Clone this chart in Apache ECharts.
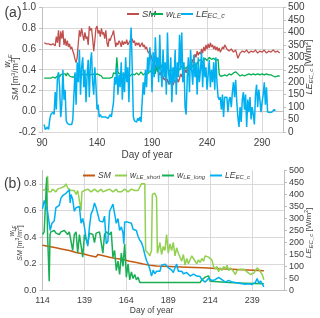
<!DOCTYPE html>
<html><head><meta charset="utf-8">
<script src="https://cdn.jsdelivr.net/npm/echarts@6/dist/echarts.min.js"></script>
<style>html,body{margin:0;padding:0;background:#fff}#c{width:320px;height:318px}</style>
</head><body><div id="c"></div>
<script>
// ---------- Panel (a) data: [day of year, value] ----------
const xTicksA = [90, 140, 190, 240, 290];
const smA = [[92,0.66],[94,0.65],[96,0.65],[98,0.64],[100,0.65],[101,0.66],[102,0.63],[103,0.72],[104,0.66],[105,0.78],[106,0.62],[107,0.77],[108,0.70],[109,0.78],[110,0.64],[111,0.70],[112,0.63],[113,0.68],[114,0.62],[115,0.65],[116,0.60],[117,0.62],[118,0.58],[119,0.55],[120,0.50],[121,0.47],[122,0.52],[123,0.66],[124,0.78],[125,0.72],[126,0.80],[127,0.74],[128,0.68],[129,0.76],[130,0.70],[131,0.72],[132,0.64],[133,0.82],[134,0.78],[135,0.80],[136,0.70],[137,0.58],[138,0.68],[139,0.80],[140,0.82],[141,0.75],[142,0.78],[143,0.72],[144,0.80],[145,0.74],[146,0.76],[147,0.70],[148,0.78],[149,0.66],[150,0.62],[151,0.70],[152,0.68],[153,0.72],[154,0.74],[155,0.78],[156,0.70],[157,0.62],[158,0.66],[159,0.64],[160,0.68],[161,0.66],[162,0.62],[163,0.68],[164,0.64],[165,0.67],[166,0.65],[167,0.69],[168,0.64],[169,0.66],[170,0.68],[171,0.65],[172,0.70],[173,0.66],[174,0.68],[175,0.63],[176,0.66],[177,0.64],[178,0.66],[179,0.62],[180,0.64],[181,0.66],[182,0.62],[183,0.64],[184,0.60],[185,0.62],[186,0.58],[187,0.56],[188,0.58],[189,0.54],[190,0.50],[191,0.48],[192,0.46],[193,0.44],[194,0.40],[195,0.42],[196,0.38],[197,0.35],[198,0.38],[199,0.32],[200,0.34],[201,0.30],[202,0.32],[203,0.28],[204,0.31],[205,0.26],[206,0.30],[207,0.27],[208,0.29],[209,0.25],[210,0.28],[211,0.30],[212,0.27],[213,0.31],[214,0.28],[215,0.32],[216,0.36],[217,0.33],[218,0.38],[219,0.35],[220,0.40],[221,0.37],[222,0.42],[223,0.38],[224,0.43],[225,0.40],[226,0.45],[227,0.50],[228,0.48],[229,0.55],[230,0.52],[231,0.58],[232,0.54],[233,0.57],[234,0.55],[235,0.60],[236,0.56],[237,0.62],[238,0.58],[239,0.64],[240,0.60],[241,0.65],[242,0.61],[243,0.66],[244,0.62],[245,0.64],[246,0.60],[247,0.63],[248,0.59],[249,0.62],[250,0.58],[251,0.61],[252,0.57],[253,0.59],[254,0.62],[255,0.60],[256,0.64],[257,0.62],[258,0.60],[259,0.61],[260,0.58],[262,0.60],[264,0.57],[266,0.59],[268,0.51],[270,0.56],[272,0.58],[274,0.57],[276,0.59],[278,0.56],[280,0.58],[282,0.57],[284,0.59],[286,0.56],[288,0.58],[290,0.57],[292,0.59],[294,0.56],[296,0.58],[298,0.57],[300,0.59],[302,0.57],[304,0.58],[306,0.56]];
const wA = [[92,0.32],[94,0.32],[96,0.32],[98,0.32],[100,0.33],[102,0.32],[104,0.34],[105,0.36],[106,0.33],[107,0.35],[108,0.34],[109,0.36],[110,0.35],[111,0.36],[112,0.34],[113,0.37],[114,0.38],[115,0.34],[116,0.35],[117,0.33],[118,0.34],[119,0.33],[120,0.35],[121,0.34],[122,0.35],[124,0.36],[126,0.35],[128,0.36],[130,0.35],[132,0.36],[134,0.35],[136,0.36],[138,0.35],[140,0.36],[142,0.35],[144,0.34],[145,0.32],[146,0.32],[148,0.32],[150,0.32],[152,0.32],[154,0.33],[155,0.37],[156,0.38],[157,0.36],[158,0.52],[159,0.38],[160,0.36],[161,0.35],[162,0.37],[163,0.35],[164,0.36],[166,0.35],[168,0.36],[170,0.34],[172,0.36],[174,0.35],[176,0.37],[178,0.35],[180,0.38],[182,0.35],[184,0.37],[186,0.36],[188,0.38],[190,0.40],[192,0.42],[193,0.36],[194,0.44],[195,0.38],[196,0.48],[197,0.40],[198,0.45],[199,0.42],[200,0.44],[202,0.40],[204,0.42],[206,0.38],[208,0.40],[210,0.38],[212,0.41],[214,0.39],[216,0.42],[218,0.44],[220,0.41],[222,0.43],[224,0.40],[226,0.42],[228,0.46],[230,0.44],[232,0.48],[234,0.50],[236,0.47],[238,0.51],[240,0.49],[242,0.52],[244,0.50],[246,0.51],[248,0.49],[250,0.50],[251,0.36],[252,0.34],[254,0.34],[256,0.35],[258,0.34],[260,0.36],[262,0.35],[264,0.37],[266,0.38],[268,0.36],[270,0.34],[272,0.35],[274,0.34],[276,0.35],[278,0.36],[280,0.35],[282,0.36],[284,0.35],[286,0.36],[288,0.35],[290,0.36],[292,0.35],[294,0.36],[296,0.35],[298,0.35],[300,0.34],[302,0.33],[304,0.34],[306,0.34]];
const leA = [[92,30],[93,10],[94,5],[95,20],[96,10],[97,50],[98,70],[99,65],[100,80],[101,70],[102,160],[103,90],[104,215],[105,240],[106,180],[107,60],[108,110],[109,250],[110,130],[111,170],[112,45],[113,35],[114,40],[115,30],[116,35],[117,30],[118,50],[119,150],[120,240],[121,110],[122,280],[123,200],[124,330],[125,150],[126,260],[127,300],[128,180],[129,250],[130,120],[131,230],[132,290],[133,140],[134,280],[135,320],[136,200],[137,150],[138,260],[139,190],[140,90],[141,110],[142,60],[143,70],[144,60],[145,65],[146,60],[147,55],[148,60],[149,65],[150,55],[151,60],[152,70],[153,60],[154,65],[155,120],[156,220],[157,190],[158,260],[159,150],[160,230],[161,180],[162,280],[163,130],[164,240],[165,160],[166,300],[167,200],[168,260],[169,120],[170,330],[171,420],[172,260],[173,60],[174,45],[175,50],[176,40],[177,55],[178,45],[179,60],[180,40],[181,120],[182,200],[183,150],[184,250],[185,180],[186,300],[187,240],[188,340],[189,290],[190,160],[191,320],[192,220],[193,380],[194,260],[195,300],[196,200],[197,390],[198,250],[199,180],[200,330],[201,220],[202,280],[203,150],[204,400],[205,240],[206,190],[207,300],[208,120],[209,260],[210,200],[211,330],[212,150],[213,280],[214,220],[215,390],[216,250],[217,400],[218,200],[219,280],[220,100],[221,70],[222,220],[223,300],[224,160],[225,330],[226,250],[227,190],[228,310],[229,220],[230,280],[231,150],[232,300],[233,200],[234,250],[235,320],[236,180],[237,300],[238,220],[239,260],[240,170],[241,230],[242,290],[243,180],[244,250],[245,200],[246,280],[247,170],[248,300],[249,200],[250,140],[251,130],[252,140],[253,90],[254,150],[255,60],[256,140],[257,135],[258,140],[259,80],[260,130],[261,140],[262,100],[263,160],[264,200],[265,140],[266,210],[267,120],[268,60],[269,20],[270,100],[271,40],[272,130],[273,160],[274,90],[275,150],[276,20],[277,130],[278,80],[279,140],[280,50],[281,100],[282,70],[283,30],[284,150],[285,190],[286,100],[287,170],[288,130],[289,80],[290,120],[291,150],[292,200],[293,110],[294,180],[295,80],[296,75],[297,78],[298,75],[299,80],[300,78],[301,90],[302,85]];

// ---------- Panel (b) data: [day of year, value] ----------
const xTicksB = [114, 139, 164, 189, 214, 239];
const smB = [[114,0.34],[118,0.33],[122,0.32],[126,0.31],[130,0.30],[134,0.285],[138,0.275],[142,0.262],[146,0.252],[147,0.27],[149,0.265],[154,0.25],[158,0.24],[162,0.232],[166,0.22],[170,0.21],[174,0.198],[178,0.19],[182,0.183],[190,0.18],[200,0.175],[210,0.17],[220,0.163],[230,0.158],[240,0.152],[246,0.148]];
const wShortB = [[114,0.75],[115,0.74],[116,0.76],[117,0.86],[117.5,0.74],[118,0.75],[119,0.74],[120,0.76],[121,0.75],[122,0.74],[123,0.76],[124,0.75],[125,0.77],[126,0.76],[127,0.78],[128,0.80],[129,0.77],[130,0.76],[131,0.75],[132,0.74],[133,0.75],[134,0.72],[135,0.75],[136,0.74],[137,0.60],[137.5,0.74],[139,0.75],[140,0.74],[141,0.76],[142,0.75],[143,0.74],[144,0.75],[145,0.76],[146,0.75],[147,0.74],[148,0.75],[149,0.76],[150,0.74],[151,0.75],[152,0.75],[153,0.74],[154,0.76],[155,0.75],[156,0.74],[157,0.75],[158,0.76],[159,0.74],[160,0.75],[161,0.74],[162,0.75],[163,0.76],[164,0.75],[165,0.74],[166,0.75],[167,0.76],[168,0.77],[169,0.75],[170,0.76],[171,0.75],[172,0.74],[173,0.80],[174,0.81],[175,0.80],[175.5,0.30],[177,0.28],[178,0.26],[179,0.30],[179.5,0.72],[181,0.73],[182,0.70],[182.5,0.28],[183,0.30],[184,0.36],[185,0.27],[186,0.33],[187,0.30],[188,0.42],[189,0.28],[190,0.35],[191,0.30],[192,0.36],[193,0.26],[194,0.32],[195,0.28],[196,0.25],[197,0.22],[198,0.27],[199,0.19],[200,0.24],[201,0.20],[202,0.23],[203,0.26],[204,0.24],[205,0.22],[206,0.20],[207,0.23],[208,0.21],[209,0.24],[210,0.22],[211,0.26],[212,0.27],[213,0.25],[214,0.26],[215,0.23],[216,0.18],[217,0.16],[218,0.18],[219,0.14],[220,0.17],[221,0.15],[222,0.18],[223,0.16],[224,0.19],[225,0.15],[226,0.17],[227,0.16],[228,0.14],[229,0.12],[230,0.15],[231,0.14],[232,0.16],[233,0.15],[234,0.16],[235,0.15],[236,0.14],[237,0.13],[238,0.12],[239,0.11],[240,0.13],[241,0.15],[242,0.17],[243,0.18],[244,0.14],[245,0.12],[246,0.08]];
const wLongB = [[114,0.42],[115,0.44],[116,0.43],[116.5,0.85],[117,0.43],[118,0.07],[118.5,0.42],[119,0.44],[120,0.43],[121,0.45],[122,0.43],[123,0.44],[124,0.42],[125,0.44],[126,0.43],[127,0.45],[128,0.44],[129,0.42],[130,0.44],[131,0.43],[132,0.30],[133,0.42],[134,0.44],[135,0.28],[136,0.42],[137,0.43],[138,0.25],[139,0.42],[140,0.43],[141,0.35],[142,0.43],[143,0.44],[144,0.42],[145,0.36],[146,0.43],[147,0.42],[148,0.44],[149,0.43],[150,0.28],[151,0.42],[152,0.44],[153,0.43],[154,0.42],[155,0.44],[156,0.25],[157,0.30],[158,0.15],[159,0.22],[160,0.12],[161,0.28],[162,0.18],[163,0.35],[164,0.10],[165,0.20],[166,0.08],[167,0.14],[168,0.09],[169,0.12],[170,0.08],[171,0.10],[172,0.06],[180,0.06],[190,0.06],[200,0.06],[208,0.06],[209,0.08],[210,0.07],[211,0.10],[212,0.09],[213,0.11],[214,0.07],[215,0.06],[225,0.06],[235,0.055],[246,0.05]];
const leB = [[114,340],[115,375],[116,380],[117,330],[118,280],[118.6,250],[119.6,280],[121,290],[122,345],[123,350],[124,355],[125,385],[126,395],[127,400],[128,405],[129,410],[130,420],[130.5,365],[131,400],[132,380],[133,330],[134,345],[135,340],[136,350],[137,280],[138,300],[139,265],[140,215],[141,185],[142,265],[143,320],[144,335],[145,365],[146,345],[147,340],[148,290],[149,295],[150,285],[151,310],[152,195],[153,205],[154,330],[155,345],[156,360],[157,365],[158,280],[159,300],[160,250],[161,265],[162,240],[162.5,195],[163,285],[164,280],[165,285],[166,290],[167,280],[168,255],[169,260],[170,250],[171,225],[172,210],[173,200],[174,180],[175,150],[176,125],[177,110],[178,90],[179,60],[180,85],[181,70],[182,80],[183,75],[184,80],[185,105],[186,100],[187,110],[188,105],[189,95],[190,90],[191,85],[192,75],[193,95],[194,110],[195,80],[196,75],[197,80],[198,70],[199,65],[200,75],[201,70],[202,60],[203,65],[204,68],[205,70],[206,60],[207,55],[208,58],[209,45],[210,40],[211,35],[212,40],[213,50],[214,45],[215,42],[216,38],[217,45],[218,50],[219,55],[220,60],[221,45],[222,40],[223,35],[224,38],[225,42],[226,40],[227,35],[228,38],[229,33],[230,35],[231,30],[232,32],[233,28],[234,30],[235,26],[236,25],[237,28],[238,26],[239,25],[240,24],[241,35],[242,50],[243,30],[244,40],[245,35],[246,15]];

// ---------- styling ----------
const FA = "'Liberation Sans Narrow','Liberation Sans',Arial,sans-serif";
const FB = "'Liberation Sans',Arial,sans-serif";
const TXT = '#404040', AX = '#bfbfbf', GRID = '#d9d9d9';
const C = {red:'#c0504d', green:'#00b050', blue:'#00b0f0', brown:'#c55a11', lgreen:'#92d050', dgreen:'#1aaf54'};

function rich(fs, ff){
  return {
    i:{fontStyle:'italic', fontSize:fs, lineHeight:fs+2, fontFamily:ff, color:TXT},
    n:{fontSize:fs, lineHeight:fs+2, fontFamily:ff, color:TXT},
    s:{fontStyle:'italic', fontSize:Math.round(fs*0.72), lineHeight:Math.round(fs*0.72), verticalAlign:'bottom', fontFamily:ff, color:TXT},
    u:{fontSize:Math.round(fs*0.68), lineHeight:Math.round(fs*0.68), verticalAlign:'top', fontFamily:ff, color:TXT}
  };
}
const lab = {
  'SM':'{i|SM}', 'SMb':'{i|SM}',
  'wLE':'{i|w}{s|LE}', 'LEa':'{i|LE}{s|EC_c}', 'LEb':'{i|LE}{s|EC_c}',
  'wShort':'{i|w}{s|LE_short}', 'wLong':'{i|w}{s|LE_long}'
};
function legendItem(name, left, top, fs, ff){
  return {data:[name], left:left, top:top, itemWidth:12, itemHeight:2, icon:'rect', itemGap:0,
    padding:0, selectedMode:false,
    formatter:n=>lab[n], textStyle:{fontSize:fs, fontFamily:ff, color:TXT, padding:[0,0,0,-2], rich:rich(fs, ff)}};
}
function txt(x, y, text, fs, ff, rot){
  return {type:'text', x:x, y:y, rotation:rot||0, silent:true,
    style:{text:text, rich:rich(fs, ff), fontSize:fs, fontFamily:ff, fill:TXT, align:'center', verticalAlign:'middle'}};
}
const lineS = (name, data, xi, yi, color, w) => ({name, type:'line', xAxisIndex:xi, yAxisIndex:yi, data,
  showSymbol:false, symbol:'none', lineStyle:{color, width:w}, itemStyle:{color}, animation:false});

const chart = echarts.init(document.getElementById('c'), null, {renderer:'canvas'});
chart.setOption({
  backgroundColor:'#fff',
  animation:false,
  grid:[
    {left:42, top:7.5, width:241, height:124.5},
    {left:42.5, top:170.5, width:241.5, height:120}
  ],
  xAxis:[
    {gridIndex:0, type:'value', min:xTicksA[0], max:309, interval:50,
      axisLine:{lineStyle:{color:AX}}, axisTick:{show:false},
      axisLabel:{color:TXT, fontSize:10, fontFamily:FA, margin:6, showMaxLabel:false},
      splitLine:{show:true, showMaxLine:false, showMinLine:false, lineStyle:{color:GRID}}},
    {gridIndex:1, type:'value', min:xTicksB[0], max:258, interval:25,
      axisLine:{lineStyle:{color:AX}}, axisTick:{show:false},
      axisLabel:{color:TXT, fontSize:9, fontFamily:FB, margin:6, showMaxLabel:false},
      splitLine:{show:true, showMaxLine:false, showMinLine:false, lineStyle:{color:GRID}}}
  ],
  yAxis:[
    {gridIndex:0, type:'value', min:-0.2, max:1.0, interval:0.2,
      axisLine:{show:true, lineStyle:{color:AX}}, axisTick:{show:true, length:3, lineStyle:{color:AX}},
      axisLabel:{color:TXT, fontSize:10, fontFamily:FA, margin:6, formatter:v=>v.toFixed(1)},
      splitLine:{show:true, lineStyle:{color:GRID}}},
    {gridIndex:0, type:'value', position:'right', min:0, max:500, interval:50,
      axisLine:{show:true, lineStyle:{color:AX}}, axisTick:{show:true, length:3, lineStyle:{color:AX}},
      axisLabel:{color:TXT, fontSize:10, fontFamily:FA, margin:5},
      splitLine:{show:false}},
    {gridIndex:1, type:'value', min:0, max:0.9, interval:0.2,
      axisLine:{show:true, lineStyle:{color:AX}}, axisTick:{show:true, length:3, lineStyle:{color:AX}},
      axisLabel:{color:TXT, fontSize:9, fontFamily:FB, margin:6, showMaxLabel:false, formatter:v=>v.toFixed(1)},
      splitLine:{show:true, showMaxLine:false, lineStyle:{color:GRID}}},
    {gridIndex:1, type:'value', position:'right', min:0, max:500, interval:50,
      axisLine:{show:true, lineStyle:{color:AX}}, axisTick:{show:true, length:3, lineStyle:{color:AX}},
      axisLabel:{color:TXT, fontSize:9, fontFamily:FB, margin:5},
      splitLine:{show:false}}
  ],
  legend:[
    legendItem('SM', 127, 9, 9.5, FA),
    legendItem('wLE', 151, 9, 9.5, FA),
    legendItem('LEa', 181, 9, 9.5, FA),
    legendItem('SMb', 83, 171, 8.5, FB),
    legendItem('wShort', 115, 171, 8.5, FB),
    legendItem('wLong', 162, 171, 8.5, FB),
    legendItem('LEb', 210, 171, 8.5, FB)
  ],
  series:[
    lineS('SM', smA, 0, 0, C.red, 1.3),
    lineS('wLE', wA, 0, 0, C.green, 1.3),
    lineS('LEa', leA, 0, 1, C.blue, 1.5),
    lineS('SMb', smB, 1, 2, C.brown, 1.5),
    lineS('wShort', wShortB, 1, 2, C.lgreen, 1.5),
    lineS('wLong', wLongB, 1, 2, C.dgreen, 1.5),
    lineS('LEb', leB, 1, 3, C.blue, 1.5)
  ],
  graphic:[
    txt(13, 13, '(a)', 14, FB),
    txt(12.5, 184.5, '(b)', 14, FB),
    txt(8, 61, '{i|w}{s|LE}', 8.5, FA, Math.PI/2),
    txt(16, 79, '{i|SM}{n| [m}{u|3}{n|/m}{u|3}{n|]}', 8.5, FA, Math.PI/2),
    txt(309, 67, '{i|LE}{s|EC_c}{n| [W/m}{u|2}{n|]}', 9, FA, Math.PI/2),
    txt(147, 155, 'Day of year', 10, FA),
    txt(12.5, 231, '{i|w}{s|LE}', 7, FB, Math.PI/2),
    txt(20, 243, '{i|SM}{n| [m}{u|3}{n|/m}{u|3}{n|]}', 7, FB, Math.PI/2),
    txt(309, 233, '{i|LE}{s|EC_c}{n| [W/m}{u|2}{n|]}', 8, FB, Math.PI/2),
    txt(151.5, 311, 'Day of year', 8.5, FB)
  ]
});
</script></body></html>
